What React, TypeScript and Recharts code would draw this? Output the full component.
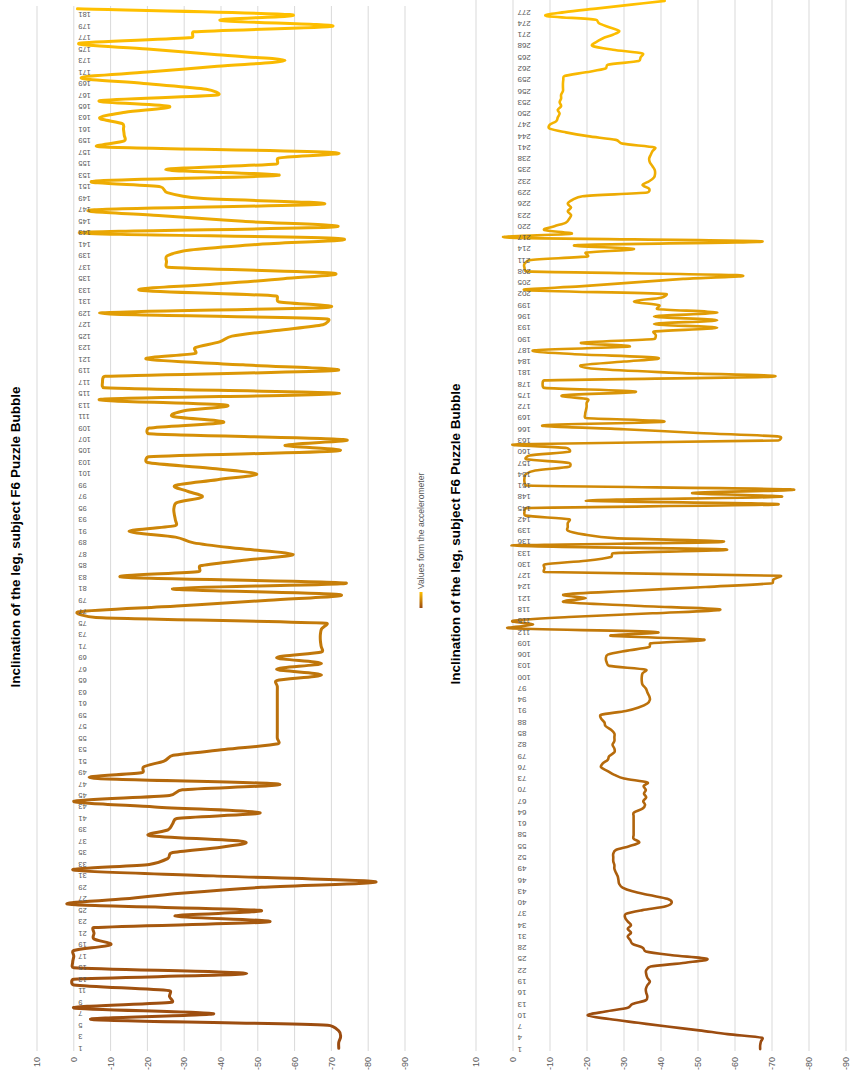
import React from 'react';
import { LineChart, Line, XAxis, YAxis, CartesianGrid } from 'recharts';

// ---------- DATA ----------
const TITLE = 'Inclination of the leg, subject F6 Puzzle Bubble';
const LEGEND_LABEL = 'Values form the accelerometer';
const valueTicks = [10, 0, -10, -20, -30, -40, -50, -60, -70, -80, -90];

const chart1Values = [
  -72, -72, -72.5, -72, -69, -5, -38, 0, -26.6, -26,
  -26, 0, 0, -47, 0, 0.3, 0, 0, -10, -5.5,
  -5.5, -5.5, -53, -27.5, -50.5, 0.5, -14, -30, -51, -82,
  -38, 0, -20.5, -25.5, -26.5, -40, -46, -20.7, -25.6, -26.8,
  -28, -50.6, -22, 0, -26, -29.5, -55.6, -5.5, -18.6, -19,
  -24.5, -27, -41, -55.5, -55.3, -55.3, -55.3, -55.3, -55.3, -55.3,
  -55.3, -55.3, -55.3, -55.3, -55.1, -67.3, -55.1, -67.3, -55.1, -67.3,
  -67.2, -67, -67, -67.3, -68.6, -6, -1.5, -28, -53, -72,
  -26.8, -74, -13.7, -34, -34.4, -47, -59.6, -45, -32.6, -27.6,
  -15, -27.6, -27.6, -27.3, -27.2, -28, -34.9, -30.8, -27.6, -39,
  -49.7, -37, -20, -20.4, -71.3, -57.4, -73.2, -20.4, -20.5, -40.7,
  -27, -30, -41.2, -7.4, -72.2, -8.3, -7.8, -8.5, -70.9, -46,
  -19.8, -33, -33, -39.6, -43, -55, -67.7, -69, -7, -68.6,
  -55.6, -55, -18, -37, -57, -70, -25.5, -25.2, -25.4, -31.7,
  -50.6, -71.8, -1.5, -70.4, -46, -23, -5.6, -67.7, -34.4, -25.4,
  -23.6, -5.6, -55.6, -25, -55.1, -55.6, -70.4, -6.9, -13.7, -13.7,
  -13.5, -13.2, -7, -14, -26, -7, -39, -36, -19, -2,
  -20, -39, -57.4, -39, -20, -1.5, -32, -32.6, -70.4, -39.8,
  -58.7, -1,
];

const chart2Values = [
  -66.8, -66.8, -67, -67.3, -58, -50.3, -41.7, -33.8, -26, -20.2,
  -25, -31, -32.3, -35.9, -36.3, -36, -35.9, -36.3, -37, -36.3,
  -36, -36, -37.2, -46.6, -52.5, -43, -35.9, -35, -32.3, -31.7,
  -31, -31.9, -31, -31.9, -31, -30.3, -30.5, -35, -41.3, -42.9,
  -41.7, -36.8, -32.3, -29.6, -28.7, -28.5, -28.3, -27.8, -27.4, -27.4,
  -27.1, -27.1, -27.1, -27.8, -31.4, -34.1, -32.6, -32.6, -32.6, -32.6,
  -32.6, -32.6, -32.6, -32.7, -35, -35.7, -35.2, -36, -35.4, -35.9,
  -35.3, -36.3, -30, -27.4, -25.6, -23.8, -24.2, -25.6, -26, -27.4,
  -27.4, -26.9, -27.4, -27.4, -27.4, -26.5, -25, -24.7, -23.8, -23.8,
  -30.5, -34.1, -36.3, -37, -36.8, -36.3, -35.9, -35, -34.8, -34.8,
  -35, -35.9, -26, -25.3, -25.1, -25.6, -30.5, -36.8, -37.2, -51.6,
  -26.5, -38.6, 0.9, -5.4, 0, -15, -37.7, -56, -33, -13.9,
  -19.7, -13.9, -32, -52, -70, -70.4, -72.2, -8.5, -8.5, -8.5,
  -19.7, -26.5, -27, -57.4, 0.4, -56.5, -27.4, -19, -14.8, -14.8,
  -14.8, -15.2, -3.4, -3.1, -3.6, -71.7, -19.7, -72.2, -48.4, -74.9,
  -3.6, -3.1, -3.1, -3.4, -6, -15.2, -15.2, -3.6, -4.5, -15.2,
  -14.5, -1.3, -71.7, -72.2, -50, -30, -8, -40.8, -19.7, -19.5,
  -19.7, -19.9, -19.9, -20.2, -13.5, -33.2, -8.5, -8, -8.5, -70,
  -44, -23, -18.4, -30, -39, -16, -5.8, -31.4, -18.4, -38.1,
  -38.6, -38.1, -55.2, -38.1, -55.2, -38.1, -55.2, -39, -39.5, -32.7,
  -40, -41.3, -3.6, -18, -32, -46, -60.5, -3.6, -3.1, -3.1,
  -4.5, -20.2, -19.7, -32.7, -17.5, -67.3, 0.9, -15.7, -8.5, -11.2,
  -14.3, -15.2, -15.7, -14.8, -15.7, -14.8, -16, -18.8, -36.3, -36.8,
  -35, -36.8, -38.1, -38.4, -38.3, -37.7, -37, -36.8, -37.2, -37.7,
  -38.3, -29.6, -27.8, -20.2, -14.3, -9.9, -9.9, -11.7, -12.1, -12.6,
  -12.1, -13, -12.6, -13, -13, -13.5, -13.5, -13.5, -13.6, -13.9,
  -19.7, -25, -25.6, -34, -34.5, -35, -27, -21.5, -22.4, -24.2,
  -27, -28.7, -26, -23.3, -22.4, -9, -14, -23, -32, -41,
];

const chart1Categories = chart1Values.map((_, i) => i + 1);
const chart2Categories = chart2Values.map((_, i) => i + 1);
const chart1LastLabel = 181;
const chart2LastLabel = 277;

const data1 = chart1Categories.map((c, i) => ({ cat: c, value: chart1Values[i] }));
const data2 = chart2Categories.map((c, i) => ({ cat: c, value: chart2Values[i] }));

// ---------- STYLE ----------
const FONT = '"Liberation Sans", Arial, sans-serif';
const GRID = '#d9d9d9';
const LABEL = '#595959';
const COLOR_START = '#9A4A10';
const COLOR_END = '#FFC000';

// Excel-like smoothed curve: Catmull-Rom Bezier, control arms limited to half the segment
function excelCurve(context: any) {
  let pts: number[][] = [];
  return {
    areaStart() {},
    areaEnd() {},
    lineStart() {
      pts = [];
    },
    lineEnd() {
      const n = pts.length;
      if (!n) return;
      context.moveTo(pts[0][0], pts[0][1]);
      const t = 1 / 6;
      for (let i = 0; i < n - 1; i++) {
        const p0 = pts[i - 1] || pts[i];
        const p1 = pts[i];
        const p2 = pts[i + 1];
        const p3 = pts[i + 2] || p2;
        const seg = Math.hypot(p2[0] - p1[0], p2[1] - p1[1]);
        let ax = (p2[0] - p0[0]) * t;
        let ay = (p2[1] - p0[1]) * t;
        let bx = (p3[0] - p1[0]) * t;
        let by = (p3[1] - p1[1]) * t;
        const la = Math.hypot(ax, ay);
        const lb = Math.hypot(bx, by);
        const lim = seg / 2;
        if (la > lim && la > 0) {
          ax *= lim / la;
          ay *= lim / la;
        }
        if (lb > lim && lb > 0) {
          bx *= lim / lb;
          by *= lim / lb;
        }
        context.bezierCurveTo(p1[0] + ax, p1[1] + ay, p2[0] - bx, p2[1] - by, p2[0], p2[1]);
      }
    },
    point(x: number, y: number) {
      pts.push([+x, +y]);
    },
  };
}

function makeCatTick(zeroY: number, fontSize: number, lastLabel: number) {
  return (props: any) => {
    const { x, payload } = props;
    if (Number(payload.value) > lastLabel) return <g />;
    const y = zeroY + 4.5;
    return (
      <text
        x={x}
        y={y}
        transform={`rotate(-90 ${x} ${y})`}
        textAnchor="end"
        dominantBaseline="central"
        fontSize={fontSize}
        fill={LABEL}
        fontFamily={FONT}
      >
        {payload.value}
      </text>
    );
  };
}

interface PanelProps {
  id: string;
  data: any[];
  width: number;
  height: number;
  margin: { top: number; right: number; bottom: number; left: number };
  yWidth: number;
  interval: number;
  lastLabel: number;
  catFont: number;
  strokeWidth: number;
}

const X_AXIS_H = 2;

function Panel({ id, data, width, height, margin, yWidth, interval, lastLabel, catFont, strokeWidth }: PanelProps) {
  const plotW = width - margin.left - margin.right - yWidth;
  const plotH = height - margin.top - margin.bottom - X_AXIS_H;
  const half = plotW / data.length / 2;
  const zeroY = margin.top + plotH * (10 / 100);
  return (
    <LineChart width={width} height={height} data={data} margin={margin}>
      <defs>
        <linearGradient id={id} x1="0" y1="0" x2="1" y2="0">
          <stop offset="0" stopColor={COLOR_START} />
          <stop offset="1" stopColor={COLOR_END} />
        </linearGradient>
      </defs>
      <CartesianGrid vertical={false} stroke={GRID} strokeWidth={1} />
      <XAxis
        dataKey="cat"
        type="category"
        scale="point"
        height={X_AXIS_H}
        axisLine={false}
        tickLine={false}
        interval={interval}
        padding={{ left: half, right: half }}
        tick={makeCatTick(zeroY, catFont, lastLabel)}
      />
      <YAxis
        type="number"
        domain={[-90, 10]}
        ticks={valueTicks}
        interval={0}
        width={yWidth}
        axisLine={false}
        tickLine={false}
        tickSize={4}
        tickMargin={2}
        tick={{ fontSize: 9, fill: LABEL, fontFamily: FONT }}
      />
      <Line
        dataKey="value"
        type={excelCurve as any}
        stroke={`url(#${id})`}
        strokeWidth={strokeWidth}
        dot={false}
        activeDot={false}
        isAnimationActive={false}
        strokeLinecap="round"
        strokeLinejoin="round"
      />
    </LineChart>
  );
}

const PAGE_W = 854;
const PAGE_H = 1074;

export default function App() {
  return (
    <div style={{ width: PAGE_W, height: PAGE_H, position: 'relative', overflow: 'hidden', background: '#fff' }}>
      <style>{`html,body{margin:0;padding:0;overflow:hidden;background:#fff}`}</style>
      <div
        style={{
          position: 'absolute',
          left: 0,
          top: 0,
          width: PAGE_H,
          height: PAGE_W,
          transformOrigin: '0 0',
          transform: `translateY(${PAGE_H}px) rotate(-90deg)`,
          fontFamily: FONT,
        }}
      >
        {/* Chart 1 */}
        <div style={{ position: 'absolute', left: 0, top: 0, width: 1074, height: 430 }}>
          <div
            style={{
              position: 'absolute',
              left: 0,
              top: 7,
              width: 1074,
              height: 18,
              lineHeight: '18px',
              textAlign: 'center',
              fontWeight: 'bold',
              fontSize: 13.5,
              color: '#000',
            }}
          >
            {TITLE}
          </div>
          <div style={{ position: 'absolute', left: 0, top: 0 }}>
            <Panel
              id="grad1"
              data={data1}
              width={1074}
              height={430}
              margin={{ top: 37, right: 6, bottom: 25 - X_AXIS_H, left: 0 }}
              yWidth={23}
              interval={1}
              lastLabel={chart1LastLabel}
              catFont={7.5}
              strokeWidth={3}
            />
          </div>
          <div
            style={{
              position: 'absolute',
              left: 466,
              top: 413,
              height: 16,
              display: 'flex',
              alignItems: 'center',
              fontSize: 8.6,
              color: LABEL,
              whiteSpace: 'nowrap',
            }}
          >
            <svg width={16} height={6} style={{ marginRight: 3 }}>
              <defs>
                <linearGradient id="legendGrad" x1="0" y1="0" x2="1" y2="0">
                  <stop offset="0" stopColor={COLOR_START} />
                  <stop offset="1" stopColor={COLOR_END} />
                </linearGradient>
              </defs>
              <rect x={0} y={1.5} width={16} height={3} fill="url(#legendGrad)" />
            </svg>
            <span>{LEGEND_LABEL}</span>
          </div>
        </div>
        {/* Chart 2 */}
        <div style={{ position: 'absolute', left: 0, top: 440, width: 1080, height: 414 }}>
          <div
            style={{
              position: 'absolute',
              left: 0,
              top: 7,
              width: 1080,
              height: 18,
              lineHeight: '18px',
              textAlign: 'center',
              fontWeight: 'bold',
              fontSize: 13.5,
              color: '#000',
            }}
          >
            {TITLE}
          </div>
          <div style={{ position: 'absolute', left: 0, top: 0 }}>
            <Panel
              id="grad2"
              data={data2}
              width={1080}
              height={414}
              margin={{ top: 36, right: 5, bottom: 8 - X_AXIS_H, left: 0 }}
              yWidth={23}
              interval={2}
              lastLabel={chart2LastLabel}
              catFont={8}
              strokeWidth={2.6}
            />
          </div>
        </div>
      </div>
    </div>
  );
}
